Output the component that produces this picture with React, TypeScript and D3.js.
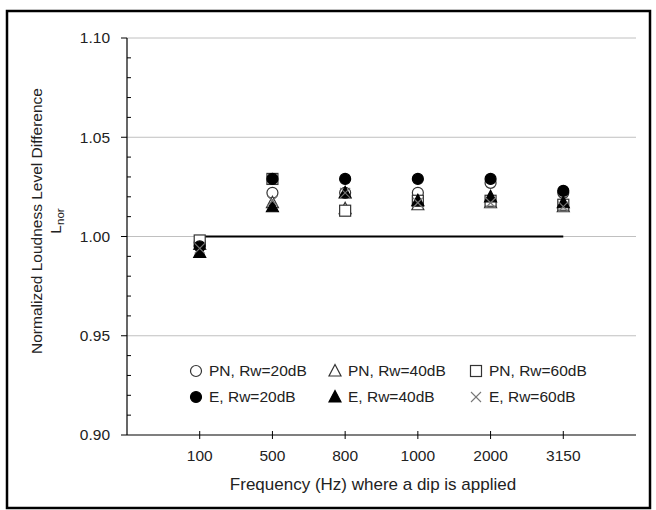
import React from 'react';
import * as d3 from 'd3';

const categories = ['100', '500', '800', '1000', '2000', '3150'];
const pn20 = [0.997, 1.022, 1.022, 1.022, 1.027, 1.022];
const pn40 = [0.996, 1.017, 1.014, 1.016, 1.017, 1.015];
const pn60 = [0.998, 1.029, 1.013, 1.018, 1.018, 1.016];
const e20 = [0.995, 1.029, 1.029, 1.029, 1.029, 1.023];
const e40 = [0.992, 1.015, 1.022, 1.018, 1.02, 1.017];
const e60 = [0.994, 1.018, 1.022, 1.017, 1.017, 1.015];
const yTicks = [0.9, 0.95, 1.0, 1.05, 1.1];
const refValue = 1.0;

type Shape = 'circle' | 'triangle' | 'square' | 'cross';
type Series = { name: string; values: number[]; shape: Shape; filled: boolean };

const series: Series[] = [
    { name: 'PN, Rw=20dB', values: pn20, shape: 'circle', filled: false },
    { name: 'PN, Rw=40dB', values: pn40, shape: 'triangle', filled: false },
    { name: 'PN, Rw=60dB', values: pn60, shape: 'square', filled: false },
    { name: 'E, Rw=20dB', values: e20, shape: 'circle', filled: true },
    { name: 'E, Rw=40dB', values: e40, shape: 'triangle', filled: true },
    { name: 'E, Rw=60dB', values: e60, shape: 'cross', filled: false },
];

const W = 656;
const H = 510;
const left = 127;
const right = 636;
const top = 38;
const bottom = 435;
const FONT = '"Liberation Sans", Arial, sans-serif';
const FS = 15.5;

const Marker = ({ shape, filled, x, y }: { shape: Shape; filled: boolean; x: number; y: number }) => {
    const fill = filled ? '#000' : '#fff';
    const stroke = filled ? '#000' : '#333';
    if (shape === 'circle') {
        return <circle cx={x} cy={y} r={5.5} fill={fill} stroke={stroke} strokeWidth={1.2} />;
    }
    if (shape === 'square') {
        return <rect x={x - 5.5} y={y - 5.5} width={11} height={11} fill={fill} stroke={stroke} strokeWidth={1.2} />;
    }
    if (shape === 'triangle') {
        const p = `${x},${y - 6.5} ${x + 6},${y + 5} ${x - 6},${y + 5}`;
        return <polygon points={p} fill={fill} stroke={stroke} strokeWidth={1.2} />;
    }
    return (
        <g stroke="#777" strokeWidth={1.1}>
            <line x1={x - 5} y1={y - 5} x2={x + 5} y2={y + 5} />
            <line x1={x - 5} y1={y + 5} x2={x + 5} y2={y - 5} />
        </g>
    );
};

const App = () => {
    const x = d3.scaleLinear().domain([0, categories.length + 1]).range([left, right]);
    const y = d3.scaleLinear().domain([0.9, 1.1]).range([bottom, top]);
    const minorTicks = d3.range(0.9, 1.1001, 0.01).filter(v => !yTicks.some(t => Math.abs(t - v) < 1e-6));

    const legendCols = [196, 335, 476];
    const legendRows = [371, 397];

    return (
        <svg
            width={W}
            height={H}
            style={{ position: 'absolute', left: 0, top: 0, background: '#fff' }}
            fontFamily={FONT}
        >
            <rect x={7} y={11} width={643} height={497} fill="#fff" stroke="#000" strokeWidth={2.5} />

            {/* gridlines */}
            {yTicks.slice(1).map(t => (
                <line key={t} x1={left} x2={right} y1={y(t)} y2={y(t)} stroke="#c0c0c0" strokeWidth={1} />
            ))}

            {/* y axis */}
            <line x1={left} x2={left} y1={top} y2={bottom} stroke="#000" strokeWidth={1.2} />
            {yTicks.map(t => (
                <g key={t}>
                    <line x1={left - 6} x2={left} y1={y(t)} y2={y(t)} stroke="#000" />
                    <text x={left - 17} y={y(t)} dy="0.35em" textAnchor="end" fontSize={FS} fill="#222">
                        {d3.format('.2f')(t)}
                    </text>
                </g>
            ))}
            {minorTicks.map(t => (
                <line key={t} x1={left} x2={left + 4} y1={y(t)} y2={y(t)} stroke="#000" />
            ))}

            {/* x axis */}
            <line x1={left} x2={right} y1={bottom} y2={bottom} stroke="#000" strokeWidth={1.2} />
            {categories.map((c, i) => (
                <g key={c}>
                    <line x1={x(i + 1)} x2={x(i + 1)} y1={bottom - 4} y2={bottom + 4} stroke="#000" />
                    <text x={x(i + 1)} y={461} textAnchor="middle" fontSize={FS} fill="#222">
                        {c}
                    </text>
                </g>
            ))}

            {/* reference line */}
            <line x1={x(1)} x2={x(categories.length)} y1={y(refValue)} y2={y(refValue)} stroke="#000" strokeWidth={2} />

            {/* data */}
            {series.map(s => (
                <g key={s.name}>
                    {s.values.map((v, i) => (
                        <Marker key={i} shape={s.shape} filled={s.filled} x={x(i + 1)} y={y(v)} />
                    ))}
                </g>
            ))}

            {/* legend */}
            {series.map((s, i) => {
                const cx = legendCols[i % 3];
                const cy = legendRows[Math.floor(i / 3)];
                return (
                    <g key={s.name}>
                        <Marker shape={s.shape} filled={s.filled} x={cx} y={cy} />
                        <text x={cx + 13} y={cy} dy="0.35em" fontSize={FS} fill="#222">
                            {s.name}
                        </text>
                    </g>
                );
            })}

            {/* axis titles */}
            <text x={373} y={490} textAnchor="middle" fontSize={17} fill="#222">
                Frequency (Hz) where a dip is applied
            </text>
            <g transform="translate(42,221) rotate(-90)">
                <text x={0} y={0} textAnchor="middle" fontSize={FS} fill="#222">
                    Normalized Loudness Level Difference
                </text>
                <text x={0} y={19} textAnchor="middle" fontSize={FS} fill="#222">
                    L<tspan fontSize={11.5} dy={3}>nor</tspan>
                </text>
            </g>
        </svg>
    );
};

export default App;
